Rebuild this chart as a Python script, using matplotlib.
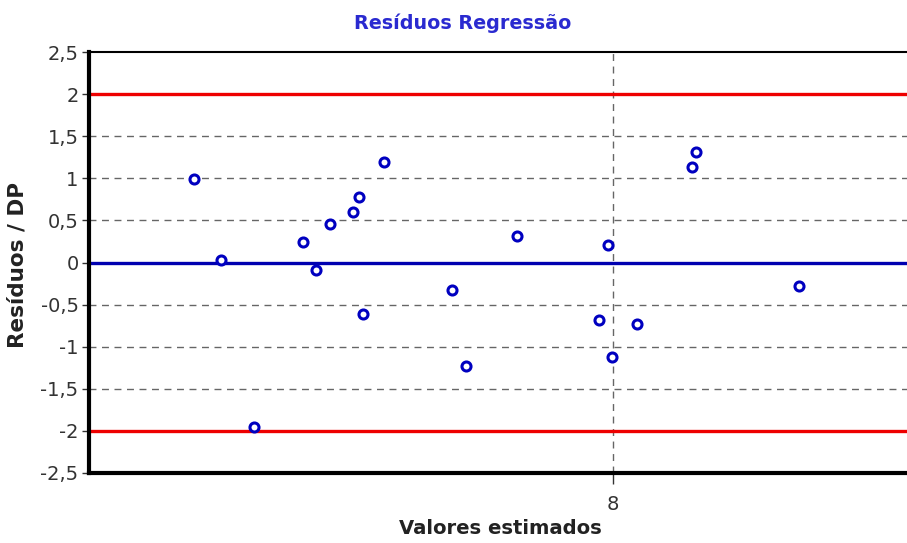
import matplotlib
matplotlib.use("Agg")
import matplotlib.pyplot as plt
from matplotlib.ticker import FuncFormatter, FixedLocator

plt.rcParams['font.family'] = ['DejaVu Sans']

fitted = [6.953, 7.020, 7.103, 7.225, 7.258, 7.293, 7.350, 7.365, 7.375, 7.428,
          7.598, 7.633, 7.760, 7.965, 7.988, 7.998, 8.060, 8.198, 8.208, 8.465]
std_resid = [0.994, 0.024, -1.953, 0.249, -0.095, 0.462, 0.604, 0.781, -0.615, 1.195,
             -0.331, -1.231, 0.320, -0.686, 0.213, -1.124, -0.734, 1.136, 1.314, -0.284]
y_ticks = [-2.5, -2, -1.5, -1, -0.5, 0, 0.5, 1, 1.5, 2, 2.5]
x_ticks = [8]
limits = [-2, 2]

fig = plt.figure(figsize=(9.07, 5.43), dpi=100)
ax = fig.add_axes([89/907, 1-473/543, 818/907, 421/543])
ax.set_xlim(6.69, 8.735)
ax.set_ylim(-2.5, 2.5)

for yv in y_ticks:
    if yv not in (0, 2, -2, 2.5, -2.5):
        ax.axhline(yv, color='#666666', lw=1.0, ls=(0, (5, 4)), zorder=1)
for xv in x_ticks:
    ax.axvline(xv, color='#666666', lw=1.0, ls=(0, (5, 4)), zorder=1)
for yv in limits:
    ax.axhline(yv, color='#ee0000', lw=2.4, zorder=2)
ax.axhline(0, color='#0000b0', lw=2.4, zorder=2)

ax.plot(fitted, std_resid, ls='none', marker='o', ms=6.5, mfc='white',
        mec='#0000c0', mew=2.2, zorder=3)

ax.yaxis.set_major_locator(FixedLocator(y_ticks))
ax.xaxis.set_major_locator(FixedLocator(x_ticks))
fmt = FuncFormatter(lambda v, p: ('%g' % v).replace('.', ','))
ax.yaxis.set_major_formatter(fmt)
ax.xaxis.set_major_formatter(fmt)
ax.tick_params(axis='y', direction='out', length=5, width=1, colors='#333333', labelsize=14, pad=2.5)
ax.tick_params(axis='x', direction='out', length=8, width=1, colors='#333333', labelsize=14, pad=8)
for lbl in ax.get_yticklabels() + ax.get_xticklabels():
    lbl.set_color('#333333')

ax.spines['left'].set_linewidth(3)
ax.spines['bottom'].set_linewidth(3)
ax.spines['top'].set_linewidth(1.5)
ax.spines['right'].set_visible(False)

fig.text(463/907, 1-23/543, 'Resíduos Regressão', color='#2a2ad0', fontsize=13.8,
         fontweight='bold', ha='center', va='center')
fig.text(500/907, 1-529/543, 'Valores estimados', color='#222222', fontsize=14.1,
         fontweight='bold', ha='center', va='center')
fig.text(18/907, 1-265/543, 'Resíduos / DP', color='#222222', fontsize=15.5,
         fontweight='bold', ha='center', va='center', rotation=90)

fig.savefig('out.png', dpi=100)
